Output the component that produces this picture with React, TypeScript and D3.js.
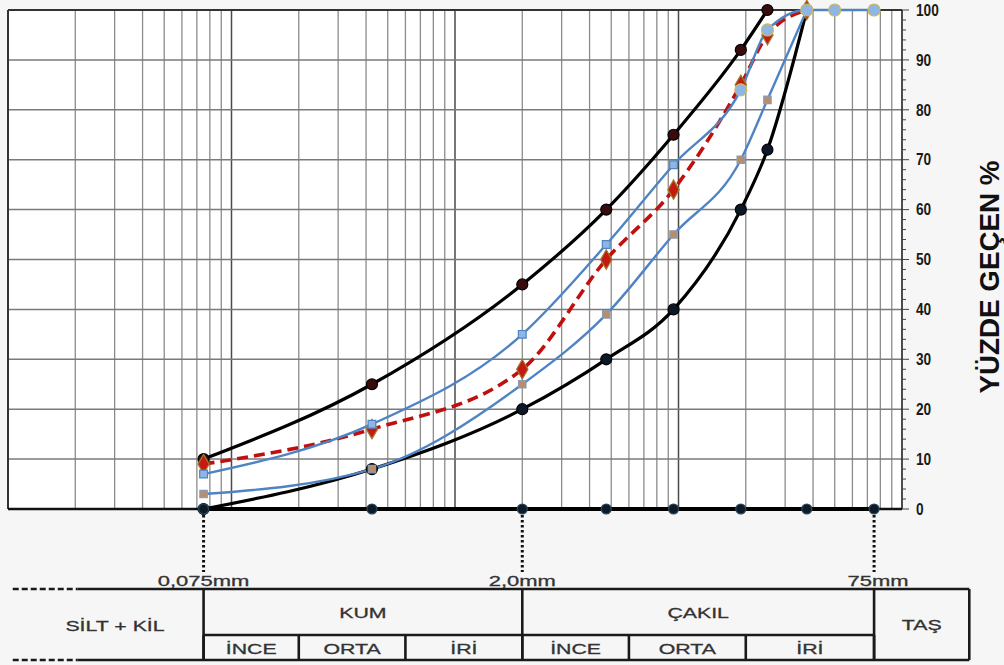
import React, { useEffect, useRef } from 'react';
import * as d3 from 'd3';

// sieve openings in mm
const SIEVES = [0.075, 0.425, 2, 4.75, 9.5, 19, 25, 37.5, 50, 75];

// percent passing, null = no point on that sieve
const UPPER_LIMIT = [10, 25, 45, 60, 75, 92, 100, null, null, null];
const LOWER_LIMIT = [0, 8, 20, 30, 40, 60, 72, 100, null, null];
const UPPER_BAND = [7, 17, 35, 53, 69, 84, 96, 100, 100, 100];
const LOWER_BAND = [3, 8, 25, 39, 55, 70, 82, 100, null, null];
const MIX = [9, 16, 28, 50, 64, 85, 95, 100, null, null];
const TOP_MARKS = [null, null, null, null, null, 84, 96, 100, 100, 100];
const BASE = [0, 0, 0, 0, 0, 0, null, 0, null, 0];

const Y_TICKS = [0, 10, 20, 30, 40, 50, 60, 70, 80, 90, 100];

const MARK_SIZES = [0.075, 2, 75];
const MARK_LABELS = ['0,075mm', '2,0mm', '75mm'];

const MAIN_BOUNDS = [0.075, 2, 75, 200];
const MAIN_CLASSES = ['KUM', 'ÇAKIL', 'TAŞ'];
const SUB_BOUNDS = [0.075, 0.2, 0.6, 2, 6, 20, 75];
const SUB_CLASSES = ['İNCE', 'ORTA', 'İRİ', 'İNCE', 'ORTA', 'İRİ'];
const FINES_LABEL = 'SİLT + KİL';
const FINES_BOUNDS = [0.0105, 0.0205];
const Y_TITLE = 'YÜZDE GEÇEN %';

const W = 1004;
const H = 665;

export default function App() {
  const svgRef = useRef<SVGSVGElement>(null);

  useEffect(() => {
    const svg = d3.select(svgRef.current);
    svg.selectAll('*').remove();

    const x = d3.scaleLog().domain([0.01, 100]).range([8, 902]);
    const y = d3.scaleLinear().domain([0, 100]).range([509, 10]);
    const top = 10, bottom = 509, left = 8, right = 902;

    svg.append('rect').attr('width', W).attr('height', H).attr('fill', '#f6f6f6');
    svg.append('rect').attr('x', left).attr('y', top).attr('width', right - left).attr('height', bottom - top).attr('fill', '#fff');

    // vertical log grid
    const grid = svg.append('g');
    [0.01, 0.1, 1, 10].forEach(dec => {
      d3.range(1, 10).forEach(m => {
        const v = dec * m;
        if (v <= 0.01) return;
        grid.append('line')
          .attr('x1', x(v)).attr('x2', x(v)).attr('y1', top).attr('y2', bottom)
          .attr('stroke', m === 1 ? '#4a4a4a' : '#8c8c8c').attr('stroke-width', m === 1 ? 1.5 : 1.3);
      });
    });
    // horizontal grid
    Y_TICKS.forEach(t => {
      grid.append('line').attr('x1', left).attr('x2', right).attr('y1', y(t)).attr('y2', y(t))
        .attr('stroke', '#7a7a7a').attr('stroke-width', 1.5);
    });

    // frame
    svg.append('line').attr('x1', left).attr('x2', left).attr('y1', top).attr('y2', bottom).attr('stroke', '#333').attr('stroke-width', 2);
    svg.append('line').attr('x1', left).attr('x2', right).attr('y1', top).attr('y2', top).attr('stroke', '#333').attr('stroke-width', 2.2);
    svg.append('line').attr('x1', right).attr('x2', right).attr('y1', top).attr('y2', bottom).attr('stroke', '#222').attr('stroke-width', 1.6);
    svg.append('line').attr('x1', left).attr('x2', right).attr('y1', bottom).attr('y2', bottom).attr('stroke', '#111').attr('stroke-width', 2.5);

    // right axis
    const axis = svg.append('g');
    d3.range(0, 101, 2).forEach(t => {
      const major = t % 10 === 0;
      axis.append('line').attr('x1', right).attr('x2', right + (major ? 7 : 4)).attr('y1', y(t)).attr('y2', y(t))
        .attr('stroke', '#444').attr('stroke-width', 1);
    });
    Y_TICKS.forEach(t => {
      const s = String(t);
      axis.append('text').attr('x', 916).attr('y', y(t)).attr('dy', '0.36em')
        .attr('font-family', "'Liberation Sans Narrow', 'Arial Narrow', 'Liberation Sans', sans-serif")
        .attr('font-weight', 'bold').attr('font-size', 16).attr('fill', '#1a1a1a')
        .attr('textLength', 7.6 * s.length).attr('lengthAdjust', 'spacingAndGlyphs')
        .text(s);
    });
    svg.append('text')
      .attr('transform', `translate(989,277) scale(1.35,1) rotate(-90)`)
      .attr('text-anchor', 'middle').attr('dy', '0.36em')
      .attr('font-family', "'Liberation Sans', Arial, sans-serif").attr('font-weight', 'bold').attr('font-size', 21)
      .attr('fill', '#111').attr('textLength', 233).attr('lengthAdjust', 'spacingAndGlyphs')
      .text(Y_TITLE);

    // curves
    const pts = (vals: (number | null)[]) => SIEVES.map((s, i) => ({ s, v: vals[i] })).filter(d => d.v !== null) as { s: number; v: number }[];
    const smooth = d3.line<{ s: number; v: number }>().x(d => x(d.s)).y(d => y(d.v)).curve(d3.curveMonotoneX);
    const straight = d3.line<{ s: number; v: number }>().x(d => x(d.s)).y(d => y(d.v));

    const lines = svg.append('g').attr('fill', 'none').attr('stroke-linejoin', 'round');
    lines.append('path').attr('d', smooth(pts(UPPER_LIMIT))).attr('stroke', '#000').attr('stroke-width', 3.2);
    lines.append('path').attr('d', smooth(pts(LOWER_LIMIT))).attr('stroke', '#000').attr('stroke-width', 3.2);
    lines.append('path').attr('d', smooth(pts(MIX))).attr('stroke', '#c0100e').attr('stroke-width', 3.6).attr('stroke-dasharray', '11,6');
    lines.append('path').attr('d', smooth(pts(LOWER_BAND))).attr('stroke', '#4f84c4').attr('stroke-width', 2.4);
    lines.append('path').attr('d', smooth(pts(UPPER_BAND))).attr('stroke', '#4f84c4').attr('stroke-width', 2.4);
    lines.append('path').attr('d', straight(pts(BASE))).attr('stroke', '#000').attr('stroke-width', 4);

    const marks = svg.append('g');
    const circles = (vals: (number | null)[], r: number, fill: string, stroke: string) => {
      pts(vals).forEach(d => {
        marks.append('circle').attr('cx', x(d.s)).attr('cy', y(d.v)).attr('r', r).attr('fill', fill).attr('stroke', stroke).attr('stroke-width', 1.2);
      });
    };
    const symbols = (vals: (number | null)[], type: d3.SymbolType, area: number, fill: string, stroke: string) => {
      const sym = d3.symbol().type(type).size(area);
      pts(vals).forEach(d => {
        marks.append('path').attr('d', sym()).attr('transform', `translate(${x(d.s)},${y(d.v)})`)
          .attr('fill', fill).attr('stroke', stroke).attr('stroke-width', 1.2);
      });
    };
    circles(UPPER_LIMIT, 5.5, '#3a0b0b', '#000');
    circles(LOWER_LIMIT, 5.5, '#0c1828', '#000');
    symbols(MIX, d3.symbolDiamond, 110, '#c41a12', '#a07a2a');
    symbols(LOWER_BAND, d3.symbolSquare, 55, '#b98d6c', '#8a9bb5');
    symbols(UPPER_BAND, d3.symbolSquare, 60, '#8fb5e3', '#4f84c4');
    circles(TOP_MARKS, 6, '#8fb5e3', '#c9b964');
    circles(BASE, 5, '#0c1a2a', '#2a4a5a');

    // lower part: boundary markers and classification table
    const txt = (g: d3.Selection<any, any, any, any>, cx: number, cy: number, s: string, size = 15) => {
      g.append('text').attr('transform', `translate(${cx},${cy}) scale(1.42,1)`)
        .attr('text-anchor', 'middle').attr('dy', '0.36em')
        .attr('font-family', "'Liberation Sans', Arial, sans-serif").attr('font-size', size)
        .attr('fill', '#333').attr('stroke', '#333').attr('stroke-width', 0.3).text(s);
    };
    const low = svg.append('g');
    MARK_SIZES.forEach((s, i) => {
      low.append('line').attr('x1', x(s)).attr('x2', x(s)).attr('y1', 515).attr('y2', 572)
        .attr('stroke', '#111').attr('stroke-width', 3).attr('stroke-dasharray', '2.5,2.5');
      txt(low, x(s) + (i === 2 ? 4 : 0), 580, MARK_LABELS[i], 15.5);
    });

    const tTop = 589, tMid = 635, tBot = 660;
    const ln = (x1: number, y1: number, x2: number, y2: number, w = 2.4, dash?: string) => {
      const l = low.append('line').attr('x1', x1).attr('x2', x2).attr('y1', y1).attr('y2', y2).attr('stroke', '#1a1a1a').attr('stroke-width', w);
      if (dash) l.attr('stroke-dasharray', dash);
    };
    const tLeft = x(FINES_BOUNDS[1]);
    const tRight = x(MAIN_BOUNDS[3]);
    ln(x(FINES_BOUNDS[0]), tTop, tLeft, tTop, 2.4, '6,3');
    ln(x(FINES_BOUNDS[0]), tBot, tLeft, tBot, 2.4, '6,3');
    ln(tLeft, tTop, tRight, tTop);
    ln(tLeft, tBot, tRight, tBot);
    MAIN_BOUNDS.forEach(b => ln(x(b), tTop, x(b), tBot, 2.6));
    ln(x(SUB_BOUNDS[0]), tMid, x(SUB_BOUNDS[SUB_BOUNDS.length - 1]), tMid);
    SUB_BOUNDS.forEach(b => ln(x(b), tMid, x(b), tBot, 2.6));

    MAIN_CLASSES.forEach((c, i) => {
      const cx = (x(MAIN_BOUNDS[i]) + x(MAIN_BOUNDS[i + 1])) / 2;
      txt(low, cx, i === 2 ? (tTop + tBot) / 2 : (tTop + tMid) / 2 + 1, c);
    });
    SUB_CLASSES.forEach((c, i) => {
      const cx = (x(SUB_BOUNDS[i]) + x(SUB_BOUNDS[i + 1])) / 2;
      txt(low, cx, (tMid + tBot) / 2 + 1, c);
    });
    txt(low, 115, (tTop + tBot) / 2 + 1, FINES_LABEL);
  }, []);

  return (
    <div style={{ position: 'fixed', left: 0, top: 0 }}>
      <svg ref={svgRef} width={W} height={H} style={{ display: 'block' }}></svg>
    </div>
  );
}
